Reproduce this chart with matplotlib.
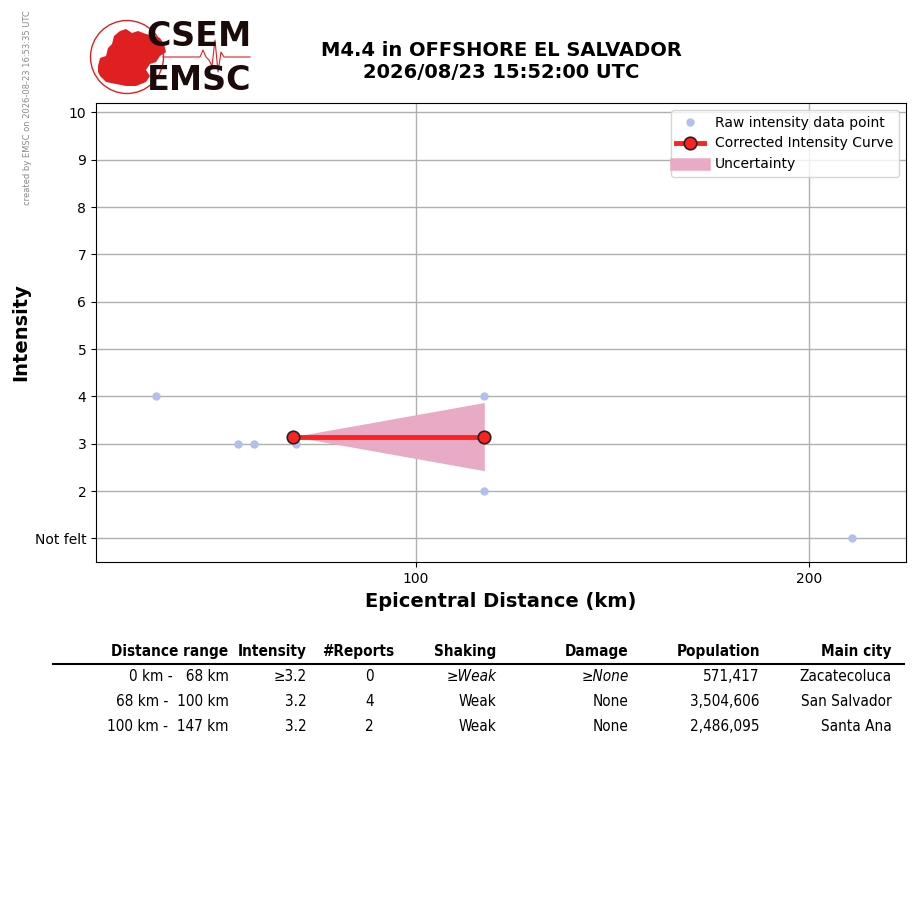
import matplotlib
matplotlib.use("Agg")
import matplotlib.pyplot as plt
import numpy as np
from matplotlib.lines import Line2D
from matplotlib.patches import Circle, Polygon

# ---------------- data ----------------
raw_dist = [33.8, 54.7, 58.8, 69.5, 89.4, 117.3, 117.3, 211.0]
raw_int = [4, 3, 3, 3, 3, 4, 2, 1]
curve_dist = [68.8, 117.4]
curve_int = [3.15, 3.15]
unc_low = [3.15, 2.43]
unc_high = [3.15, 3.87]
ytick_vals = [1, 2, 3, 4, 5, 6, 7, 8, 9, 10]
ytick_labels = ["Not felt", "2", "3", "4", "5", "6", "7", "8", "9", "10"]
xtick_vals = [100, 200]

title = "M4.4 in OFFSHORE EL SALVADOR\n2026/08/23 15:52:00 UTC"
credit = "created by EMSC on 2026-08-23 16:53:35 UTC"

col_labels = ["Distance range", "Intensity", "#Reports", "Shaking", "Damage", "Population", "Main city"]
dist_ranges = ["0 km -   68 km", "68 km -  100 km", "100 km -  147 km"]
intensities = ["\u22653.2", "3.2", "3.2"]
reports = ["0", "4", "2"]
shaking = ["\u2265Weak", "Weak", "Weak"]
damage = ["\u2265None", "None", "None"]
population = ["571,417", "3,504,606", "2,486,095"]
main_city = ["Zacatecoluca", "San Salvador", "Santa Ana"]
italic_first_row_cols = [3, 4]

# ---------------- figure ----------------
W, H = 915, 905
fig = plt.figure(figsize=(W / 100, H / 100), dpi=100)

ax = fig.add_axes([96 / W, 1 - 562 / H, (906 - 96) / W, (562 - 103) / H])
ax.set_axisbelow(True)
ax.grid(True, color="#b0b0b0", linewidth=1.0)

raw_col = "#b3bfec"
red = "#ff2020"
pink = "#e8aac4"

ax.plot(raw_dist, raw_int, linestyle="none", marker="o", markersize=5,
        color=raw_col, zorder=2)
ax.fill_between(curve_dist, unc_low, unc_high, color=pink, linewidth=0, zorder=3)
ax.plot(curve_dist, curve_int, color=red, linewidth=3.5, marker="o",
        markersize=9, markerfacecolor=red, markeredgecolor="#222222",
        markeredgewidth=1.2, zorder=4)

ax.set_xlim(18.6, 224.7)
ax.set_ylim(0.5, 10.2)
ax.set_yticks(ytick_vals)
ax.set_yticklabels(ytick_labels)
ax.set_xticks(xtick_vals)
ax.tick_params(labelsize=10)
ax.set_xlabel("Epicentral Distance (km)", fontsize=14, fontweight="bold", labelpad=4.5)
ax.set_ylabel("Intensity", fontsize=14, fontweight="bold", labelpad=3)
ax.set_title(title, fontsize=14, fontweight="bold", pad=18)

handles = [
    Line2D([], [], linestyle="none", marker="o", markersize=5, color=raw_col),
    Line2D([], [], color=red, linewidth=3.5, marker="o", markersize=9,
           markerfacecolor=red, markeredgecolor="#222222", markeredgewidth=1.2),
    Line2D([], [], color=pink, linewidth=9, solid_capstyle="projecting"),
]
ax.legend(handles, ["Raw intensity data point", "Corrected Intensity Curve", "Uncertainty"],
          loc="upper right", fontsize=10, framealpha=0.8, borderaxespad=0.5)

# credit text
fig.text(28 / W, 1 - 108 / H, credit, rotation=90, fontsize=6, color="#888888",
         ha="center", va="center")

# ---------------- logo ----------------
lax = fig.add_axes([88 / W, 1 - 100 / H, 170 / W, 85 / H])
lax.set_xlim(88, 258)
lax.set_ylim(100, 15)
lax.axis("off")
lax.add_patch(Circle((127, 57), 36.5, fill=False, edgecolor="#e02020", linewidth=1.0))
europe = [(98, 66), (100, 58), (106, 56), (108, 48), (112, 44), (114, 36), (120, 31),
          (126, 29), (132, 33), (138, 31), (146, 34), (154, 36), (160, 38), (164, 44),
          (166, 52), (160, 56), (156, 62), (150, 64), (146, 70), (150, 76), (146, 82),
          (136, 86), (126, 86), (116, 84), (106, 82), (100, 76), (98, 72)]
lax.add_patch(Polygon(europe, closed=True, facecolor="#e02020", edgecolor="none"))
seis_x = [163, 200, 203, 206, 209, 212, 215, 218, 221, 224, 250]
seis_y = [57, 57, 50, 57, 60, 66, 40, 72, 52, 57, 57]
lax.plot(seis_x, seis_y, color="#e02020", linewidth=0.8)
lax.text(199, 37, "CSEM", fontsize=24, fontweight="bold", ha="center", va="center",
         color="#1a0a0a")
lax.text(199, 81, "EMSC", fontsize=24, fontweight="bold", ha="center", va="center",
         color="#1a0a0a")

# ---------------- table ----------------
cell_text = [list(r) for r in zip(dist_ranges, intensities, reports, shaking,
                                  damage, population, main_city)]
col_px = [196, 65, 90, 104, 135, 131, 132]
tot = sum(col_px)
tax = fig.add_axes([52 / W, 1 - 739 / H, tot / W, 100 / H])
tax.axis("off")
tbl = tax.table(cellText=cell_text, colLabels=col_labels,
                colWidths=[c / tot for c in col_px], cellLoc="right", colLoc="right",
                loc="center", bbox=[0, 0, 1, 1], edges="open")
tbl.auto_set_font_size(False)
for (r, c), cell in tbl.get_celld().items():
    t = cell.get_text()
    t.set_fontsize(11)
    t.set_fontfamily("DejaVu Sans")
    t.set_fontstretch("condensed")
    if r == 0:
        cell.visible_edges = "B"
        cell.set_linewidth(1.5)
        t.set_fontweight("bold")
    else:
        if c == 2:
            cell.PAD = 0.32
        if r == 1 and c in italic_first_row_cols:
            t.set_fontstyle("italic")

fig.savefig("out.png", dpi=100)
